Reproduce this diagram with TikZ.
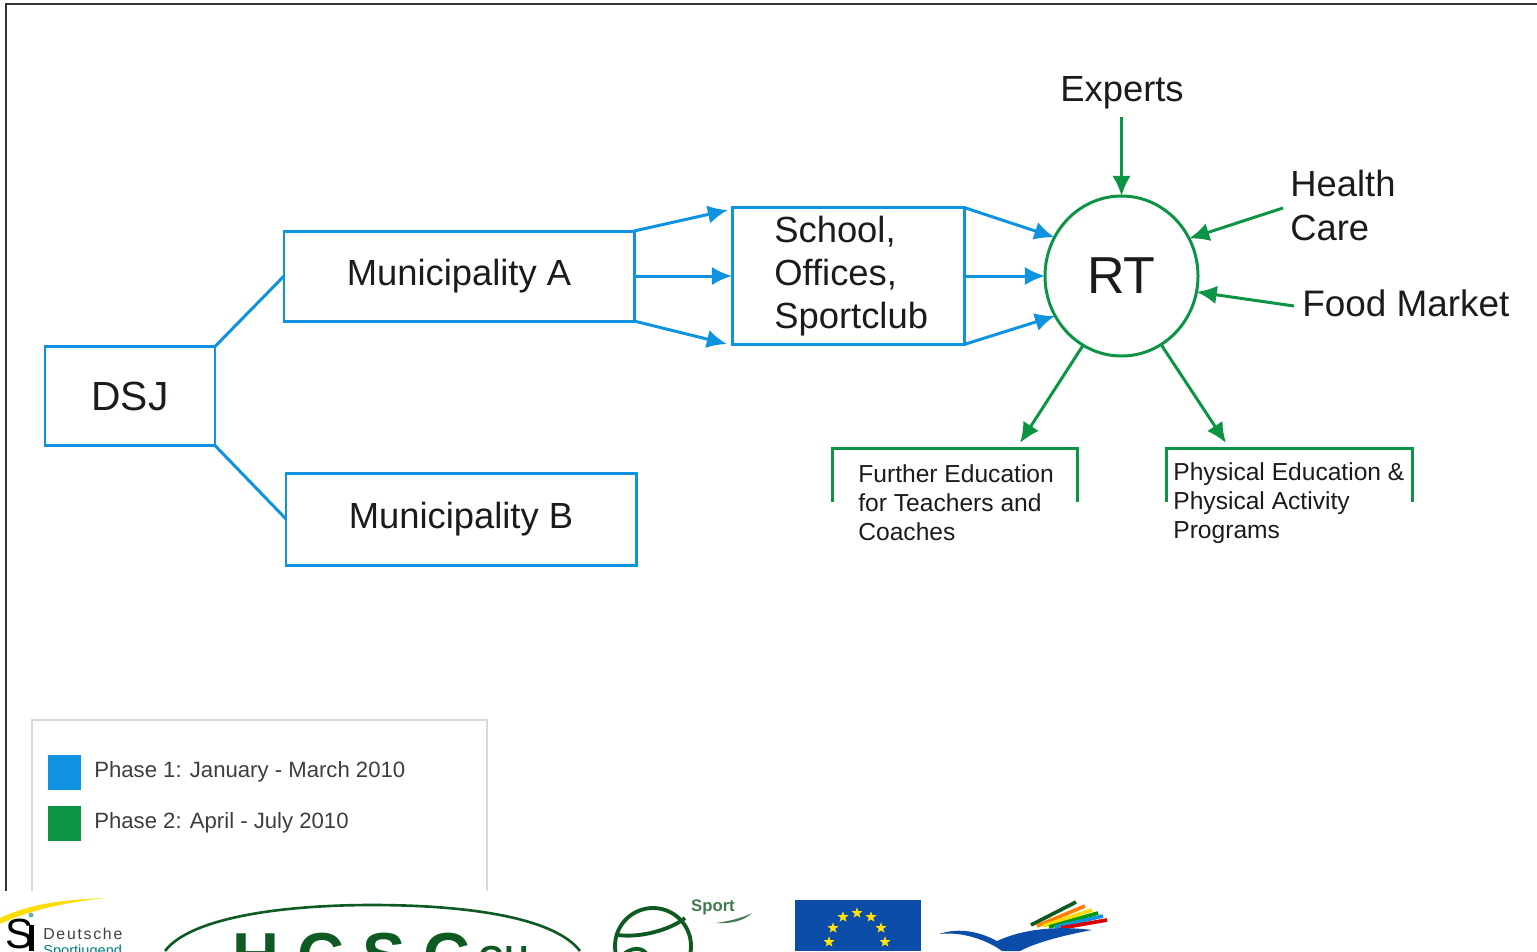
\documentclass[tikz,border=0pt]{standalone}
\usepackage{fontspec}
\setmainfont{Liberation Sans}
\usetikzlibrary{arrows.meta,shapes.geometric}
\definecolor{phaseone}{HTML}{0F92DF}
\definecolor{phasetwo}{HTML}{0A9444}
\definecolor{logogreen}{HTML}{0F5A22}
\definecolor{euroblue}{HTML}{0B4DA8}
\definecolor{textdark}{HTML}{1E1A1A}
\tikzset{
    bigtext/.style={font=\fontsize{20.7}{24.5}\selectfont,text=textdark},
    smalltext/.style={font=\fontsize{14}{16.4}\selectfont,text=textdark,align=left,inner sep=0pt},
    legendtext/.style={font=\fontsize{12.6}{15}\selectfont,text=textdark!85,anchor=west,inner sep=0pt},
    blueline/.style={draw=phaseone,line width=1.7pt},
    greenline/.style={draw=phasetwo,line width=1.7pt},
    bluearrow/.style={blueline,-{Latex[length=11.5pt,width=10.5pt]}},
    greenarrow/.style={greenline,-{Latex[length=11.5pt,width=10.5pt]}},
    bluebox/.style={blueline,bigtext,inner sep=0pt,outer sep=0pt},
    eurostar/.style={star,star points=5,star point ratio=2.4,fill=yellow!85!orange,inner sep=0pt,minimum size=6.5pt}
}
\begin{document}
\begin{tikzpicture}[x=0.02cm,y=-0.02cm]
    \useasboundingbox (0,0) rectangle (1537,951);
    \clip (0,0) rectangle (1537,951);

    % frame
    \draw[line width=1.6pt,draw=black!80] (6,891) -- (6,4) -- (1537,4);

    % phase 1
    \node[bluebox,minimum width=170*0.02cm,minimum height=99*0.02cm,font=\fontsize{23.2}{26}\selectfont] (dsj) at (130,396) {DSJ};
    \node[bluebox,minimum width=350*0.02cm,minimum height=90*0.02cm] (muniA) at (459,276) {Municipality A};
    \node[bluebox,minimum width=350*0.02cm,minimum height=92*0.02cm] (muniB) at (461,519) {Municipality B};
    \node[bluebox,minimum width=232*0.02cm,minimum height=137*0.02cm] (school) at (848,276) {};
    \node[bigtext,align=left,anchor=west,inner sep=0pt] (schooltext) at (774,276) {School,\\Offices,\\Sportclub};

    % phase 2
    \node[ellipse,greenline,minimum width=153*0.02cm,minimum height=160*0.02cm,inner sep=0pt,outer sep=0pt,font=\fontsize{29.6}{32}\selectfont,text=textdark] (rt) at (1121.5,276) {RT};
    \node[bigtext,inner sep=0pt] (experts) at (1122,93) {Experts};
    \node[bigtext,align=left,anchor=west,inner sep=0pt] (health) at (1290,205.5) {Health\\Care};
    \node[bigtext,font=\fontsize{21}{24}\selectfont,anchor=west,inner sep=0pt] (food) at (1302,303) {Food Market};

    \coordinate (schoolT) at (728,210);
    \coordinate (schoolB) at (727,344);
    \coordinate (furtherT) at (1020,443);
    \coordinate (physT) at (1226,443);
    \coordinate (expertsS) at (1121.5,117);
    \coordinate (healthW) at (1283,208);
    \coordinate (foodW) at (1294,306);

    \draw[blueline] (dsj.north east) -- (muniA.west);
    \draw[blueline] (dsj.south east) -- (muniB.west);
    \draw[bluearrow] (muniA.north east) -- (schoolT);
    \draw[bluearrow] (muniA.east) -- (school.west);
    \draw[bluearrow] (muniA.south east) -- (schoolB);
    \draw[bluearrow] (school.north east) -- (rt.150);
    \draw[bluearrow] (school.east) -- (rt.west);
    \draw[bluearrow] (school.south east) -- (rt.211);

    \draw[greenarrow] (expertsS) -- (rt.north);
    \draw[greenarrow] (healthW) -- (rt.29);
    \draw[greenarrow] (foodW) -- (rt.-12);
    \draw[greenarrow] (rt.241) -- (furtherT);
    \draw[greenarrow] (rt.300) -- (physT);

    \draw[greenline] (832,502) -- (832,448) -- (1077,448) -- (1077,502);
    \draw[greenline] (1166,502) -- (1166,448) -- (1412,448) -- (1412,502);
    \node[smalltext,anchor=north west] (further) at (858,464.5) {Further Education\\for Teachers and\\Coaches};
    \node[smalltext,anchor=north west] (phys) at (1173,462.5) {Physical Education \&\\Physical Activity\\Programs};

    % legend
    \draw[draw=black!15,line width=0.8pt] (32,891) -- (32,720) -- (487,720) -- (487,891);
    \fill[phaseone] (48,755) rectangle (81,790);
    \fill[phasetwo] (48,806) rectangle (81,841);
    \node[legendtext] (phaseA) at (94,772) {Phase 1: January - March 2010};
    \node[legendtext] (phaseB) at (94,823) {Phase 2: April - July 2010};

    % logos
    \fill[yellow!80!orange] (0,918) .. controls (30,904) and (60,900) .. (105,898) .. controls (60,903) and (25,912) .. (0,924) -- cycle;
    \fill[teal!60] (31,915) circle (2.5);
    \node[font=\fontsize{24}{24}\selectfont,text=black,inner sep=0pt,anchor=base west] (sj) at (5,948) {S};
    \fill[black] (29,925) rectangle (34,951);
    \node[font=\fontsize{9}{10}\selectfont\addfontfeature{LetterSpace=11},text=black!75,inner sep=0pt,anchor=base west] (deutsche) at (43,939) {Deutsche};
    \node[font=\fontsize{8.3}{9}\selectfont,text=teal,inner sep=0pt,anchor=base west] (jugend) at (43,955) {Sportjugend};

    \draw[logogreen,line width=1.5pt] (165,951) .. controls (190,918) and (280,905) .. (372,905) .. controls (470,905) and (555,918) .. (580,951);
    \node[font=\bfseries\fontsize{37}{37}\selectfont,text=logogreen,inner sep=0pt,anchor=base west] (hcsc) at (232,978) {H C S C};
    \node[font=\bfseries\fontsize{19}{19}\selectfont,text=logogreen,inner sep=0pt,anchor=base west] (hcscsub) at (478,969) {GH};

    \draw[logogreen,line width=2.2pt] (653,946) circle (38);
    \draw[logogreen,line width=2.2pt] (618,935) .. controls (640,938) and (670,930) .. (685,918);
    \draw[logogreen,line width=2.2pt] (618,960) .. controls (630,945) and (645,945) .. (650,960);
    \node[font=\bfseries\fontsize{9.5}{10}\selectfont,text=logogreen!80,inner sep=0pt] (sport) at (713,907) {Sport};
    \fill[logogreen!80] (716,923) .. controls (730,921) and (742,918) .. (752,913) .. controls (744,921) and (730,924) .. (716,923) -- cycle;

    \fill[euroblue] (795,900) rectangle (921,951);
    \foreach \sx/\sy in {857/913,843/917,871/917,833/928,881/928,829/942,885/942}
        \node[eurostar] at (\sx,\sy) {};

    \foreach \col/\ex/\ey/\sx/\sy in {logogreen/1076/902/1031/925,orange/1085/906/1037/926,yellow!80!orange/1092/910/1043/926,green!60!black/1098/913/1049/927,phaseone/1103/916/1055/927,red!85!black/1107/920/1061/928}
        \draw[\col,line width=2.1pt] (\sx,\sy) -- (\ex,\ey);
    \fill[euroblue] (939,934) .. controls (960,927) and (980,932) .. (997,941) .. controls (1025,928) and (1060,926) .. (1092,930) .. controls (1060,936) and (1035,943) .. (1020,951) -- (1002,951) .. controls (990,942) and (965,931) .. (939,934) -- cycle;
\end{tikzpicture}
\end{document}
